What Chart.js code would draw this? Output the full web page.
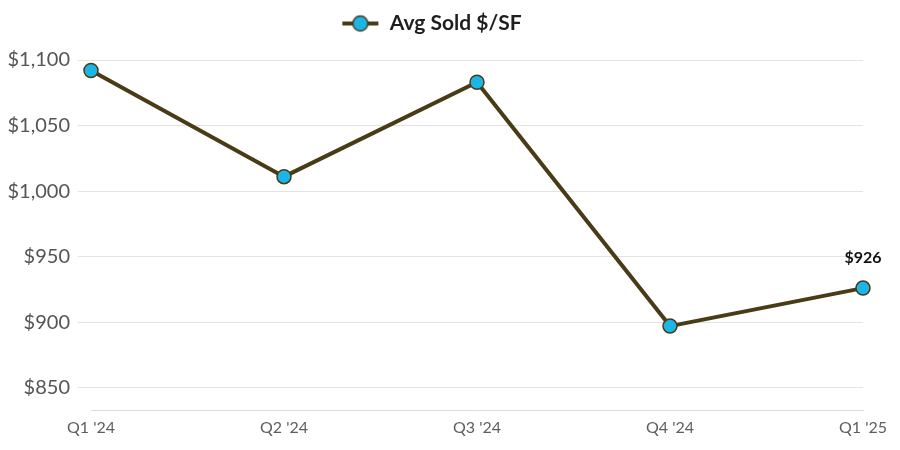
<!DOCTYPE html>
<html>
<head>
<meta charset="utf-8">
<script src="https://cdn.jsdelivr.net/npm/chart.js@4.4.1/dist/chart.umd.min.js"></script>
<style>
  html, body { margin: 0; padding: 0; background: #fff; }
  #wrap { width: 900px; height: 450px; }
</style>
</head>
<body>
<div id="wrap"><canvas id="chart"></canvas></div>
<script>
const quarters = ["Q1 '24", "Q2 '24", "Q3 '24", "Q4 '24", "Q1 '25"];
const avgSoldPerSF = [1092, 1011, 1083, 897, 926];
const seriesName = 'Avg Sold $/SF';
const yMin = 833;
const yMax = 1100;
const yStep = 50;

const lineColor = '#4a3b17';
const dotColor = '#1cb5e8';
const fontFamily = 'Lato, "Open Sans", sans-serif';

// legend marker: short line with a dot on it
const marker = document.createElement('canvas');
marker.width = 38;
marker.height = 20;
{
    const m = marker.getContext('2d');
    m.strokeStyle = lineColor;
    m.lineWidth = 4;
    m.beginPath();
    m.moveTo(1, 10);
    m.lineTo(37, 10);
    m.stroke();
    m.beginPath();
    m.arc(19, 10, 7.5, 0, Math.PI * 2);
    m.fillStyle = dotColor;
    m.fill();
    m.lineWidth = 1.5;
    m.stroke();
}

const lastLabel = {
    id: 'lastLabel',
    afterDatasetsDraw(chart) {
        const meta = chart.getDatasetMeta(0);
        const i = meta.data.length - 1;
        const pt = meta.data[i];
        const c = chart.ctx;
        c.save();
        c.font = 'bold 16px ' + fontFamily;
        c.fillStyle = '#111';
        c.textAlign = 'center';
        c.textBaseline = 'middle';
        c.fillText('$' + avgSoldPerSF[i], pt.x, pt.y - 30);
        c.restore();
    }
};

// extra room under the legend, keeps it near the top edge
const legendGap = {
    id: 'legendGap',
    beforeLayout(chart) {
        const lg = chart.legend;
        if (!lg || lg._gapPatched) return;
        const fit = lg.fit;
        lg.fit = function () {
            fit.call(this);
            this.height += 16;
        };
        lg._gapPatched = true;
    }
};

const ctx = document.getElementById('chart').getContext('2d');
const chart = new Chart(ctx, {
    type: 'line',
    data: {
        labels: quarters,
        datasets: [{
            label: seriesName,
            data: avgSoldPerSF,
            borderColor: lineColor,
            borderWidth: 4,
            backgroundColor: dotColor,
            pointBackgroundColor: dotColor,
            pointBorderColor: lineColor,
            pointBorderWidth: 1.5,
            pointRadius: 7,
            pointHoverRadius: 7,
            pointStyle: 'circle',
            tension: 0
        }]
    },
    plugins: [lastLabel, legendGap],
    options: {
        responsive: true,
        maintainAspectRatio: false,
        animation: false,
        layout: { padding: { left: 0, right: 37, top: 3, bottom: 0 } },
        plugins: {
            tooltip: { enabled: false },
            legend: {
                position: 'top',
                labels: {
                    usePointStyle: true,
                    pointStyleWidth: 38,
                    padding: 10,
                    color: '#1e1e1e',
                    font: { family: fontFamily, size: 21, weight: 'bold' },
                    generateLabels(ch) {
                        return [{
                            text: seriesName,
                            pointStyle: marker,
                            fillStyle: dotColor,
                            strokeStyle: lineColor,
                            lineWidth: 0,
                            datasetIndex: 0,
                            fontColor: '#1e1e1e'
                        }];
                    }
                }
            }
        },
        scales: {
            x: {
                grid: { display: false, drawTicks: false },
                border: { display: true, color: '#dcdcdc', width: 1 },
                ticks: {
                    color: '#5e5e5e',
                    padding: 8,
                    maxRotation: 0,
                    font: { family: fontFamily, size: 16 }
                },
                afterFit(scale) { scale.height = 40; }
            },
            y: {
                min: yMin,
                max: yMax,
                grid: { color: '#e3e3e3', lineWidth: 1, tickLength: 13 },
                border: { display: false },
                ticks: {
                    stepSize: yStep,
                    includeBounds: false,
                    color: '#555',
                    padding: 8,
                    font: { family: fontFamily, size: 20 },
                    callback: v => '$' + v.toLocaleString('en-US')
                },
                afterFit(scale) { scale.width = 91; }
            }
        }
    }
});
</script>
</body>
</html>
